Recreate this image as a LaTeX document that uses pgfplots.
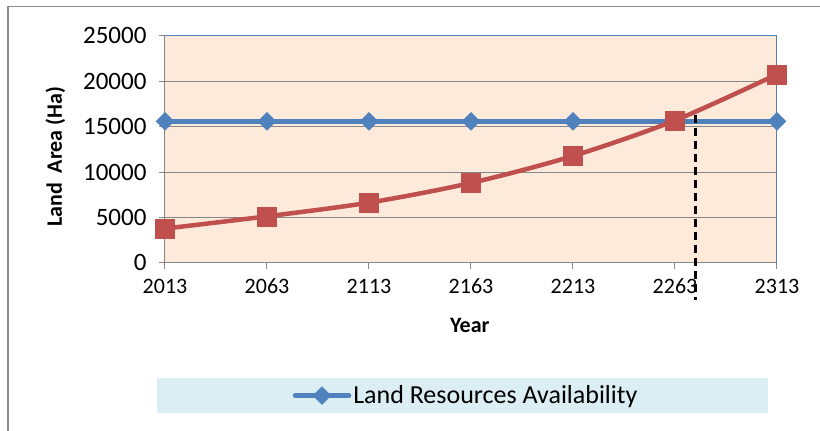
\documentclass[border=0pt]{standalone}
\usepackage{pgfplots}
\pgfplotsset{compat=1.18}
\usepackage{fontspec}
\setmainfont{Carlito}
\definecolor{sblue}{HTML}{4F81BD}
\definecolor{sred}{HTML}{C0504D}
\definecolor{peach}{HTML}{FDEADA}
\definecolor{lgnd}{HTML}{DAEEF3}
\definecolor{gridg}{HTML}{868686}
\definecolor{frameg}{HTML}{8C8C8C}
\begin{document}
\begin{tikzpicture}[x=1pt,y=1pt]
\path[use as bounding box] (0,0) rectangle (820,431);
\draw[frameg, line width=2pt] (8,0) -- (8,424);
\draw[frameg, line width=1pt] (7,424) -- (820,424);
\fill[lgnd] (157,18) rectangle (768,53);
\begin{axis}[
  at={(165pt,168pt)}, anchor=south west,
  scale only axis, width=612pt, height=227pt,
  xmin=0, xmax=6, ymin=0, ymax=25000,
  clip=false,
  axis background/.style={fill=peach},
  axis line style={draw=gridg, line width=1pt},
  xtick={0,1,2,3,4,5,6},
  xticklabels={2013,2063,2113,2163,2213,2263,2313},
  ytick={0,5000,10000,15000,20000,25000},
  ymajorgrids, grid style={draw=gridg, line width=1pt},
  tick align=outside, major tick length=6pt,
  tick style={draw=gridg, line width=1pt},
  xtick pos=bottom, ytick pos=left,
  scaled y ticks=false,
  /pgf/number format/1000 sep={},
  /pgf/number format/assume math mode=true,
  yticklabel style={font=\fontsize{25}{29}\selectfont, xshift=-9pt, text height=16pt, text depth=0pt},
  xticklabel style={font=\fontsize{22}{26}\selectfont, yshift=-6pt, anchor=north, text height=15pt, text depth=0pt},
  xlabel={\textbf{Year}},
  ylabel={\textbf{Land\ \ Area (Ha)}},
  xlabel style={font=\fontsize{22}{26}\selectfont, at={(axis description cs:0.498,-0.273)}, anchor=center},
  ylabel style={font=\fontsize{22}{26}\selectfont, at={(axis description cs:-0.179,0.467)}, anchor=center, rotate=0},
  legend style={at={(axis description cs:0.492,-0.584)}, anchor=center, draw=none, fill=none,
    font=\fontsize{26}{30}\selectfont, inner sep=0pt},
  legend image code/.code={\draw[mark repeat=2,mark phase=2,#1] plot coordinates {(0pt,0pt) (27pt,0pt) (54pt,0pt)};},
]
\addplot[sblue, line width=4.5pt, line cap=round, mark=square*, mark size=6.3pt, mark options={rotate=45, solid, line width=0.5pt}]
  coordinates {(0,15600) (1,15600) (2,15600) (3,15600) (4,15600) (5,15600) (6,15600)};
\addlegendentry{Land Resources Availability}
\addplot[sred, line width=4.5pt, smooth, tension=0.5, mark=square*, mark size=9.5pt, mark options={solid, line width=0.5pt}, forget plot]
  coordinates {(0,3790) (1,5140) (2,6650) (3,8820) (4,11790) (5,15700) (6,20780)};
\addplot[black, line width=2.5pt, dash pattern=on 8pt off 5pt, forget plot]
  coordinates {(5.2,16350) (5.2,-4100)};
\draw[sblue, line width=1pt] (rel axis cs:0,1) -- (rel axis cs:1,1) -- (rel axis cs:1,0);
\end{axis}
\end{tikzpicture}
\end{document}
